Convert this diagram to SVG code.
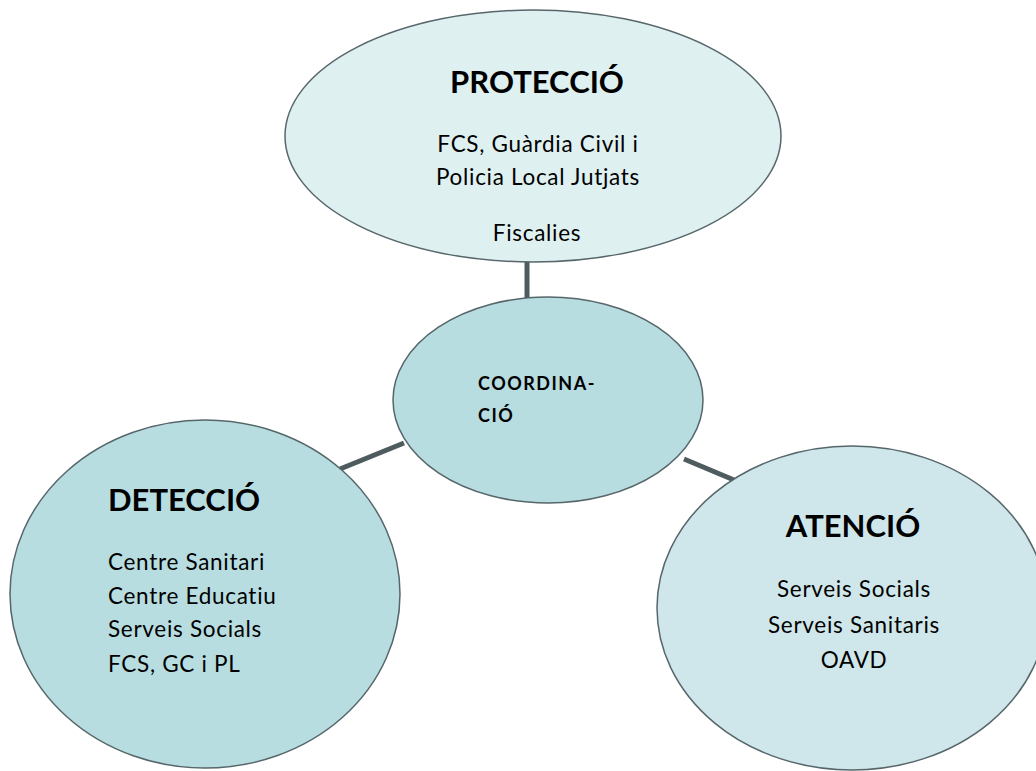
<svg xmlns="http://www.w3.org/2000/svg" width="1036" height="771" viewBox="0 0 1036 771">
<style>
.node{stroke:#56666a;stroke-width:1.5}
.conn{stroke:#4f5c5f;stroke-width:5;fill:none}
text{font-family:Lato,"Open Sans",sans-serif;fill:#000}
.h{font-weight:bold;font-size:31px}
.b{font-size:22.5px;letter-spacing:0.7px}
.c{font-weight:bold;font-size:18px;letter-spacing:1.5px}
</style>
<rect width="1036" height="771" fill="#fff"/>
<g id="connectors">
<line class="conn" x1="527" y1="258" x2="527" y2="300"/>
<line class="conn" x1="340" y1="469" x2="404" y2="443"/>
<line class="conn" x1="684" y1="459" x2="734" y2="480"/>
</g>
<g id="proteccio">
<ellipse class="node" cx="533" cy="136" rx="248" ry="126" fill="#dff0f1"/>
<text class="h" x="537" y="93" text-anchor="middle">PROTECCIÓ</text>
<text class="b" x="538" y="152" text-anchor="middle">FCS, Guàrdia Civil i</text>
<text class="b" x="538" y="185" text-anchor="middle">Policia Local Jutjats</text>
<text class="b" x="537" y="241" text-anchor="middle">Fiscalies</text>
</g>
<g id="coordinacio">
<ellipse class="node" cx="548" cy="400" rx="155" ry="103" fill="#b7dde1"/>
<text class="c" x="478" y="390">COORDINA-</text>
<text class="c" x="478" y="422">CIÓ</text>
</g>
<g id="deteccio">
<ellipse class="node" cx="205" cy="594" rx="195" ry="174" fill="#b7dde1"/>
<text class="h" x="108" y="511">DETECCIÓ</text>
<text class="b" x="108" y="570">Centre Sanitari</text>
<text class="b" x="108" y="604">Centre Educatiu</text>
<text class="b" x="108" y="637">Serveis Socials</text>
<text class="b" x="108" y="672">FCS, GC i PL</text>
</g>
<g id="atencio">
<ellipse class="node" cx="852" cy="608" rx="195" ry="162" fill="#cfe7ea"/>
<text class="h" x="853" y="537" text-anchor="middle">ATENCIÓ</text>
<text class="b" x="854" y="597" text-anchor="middle">Serveis Socials</text>
<text class="b" x="854" y="633" text-anchor="middle">Serveis Sanitaris</text>
<text class="b" x="854" y="668" text-anchor="middle">OAVD</text>
</g>
</svg>
